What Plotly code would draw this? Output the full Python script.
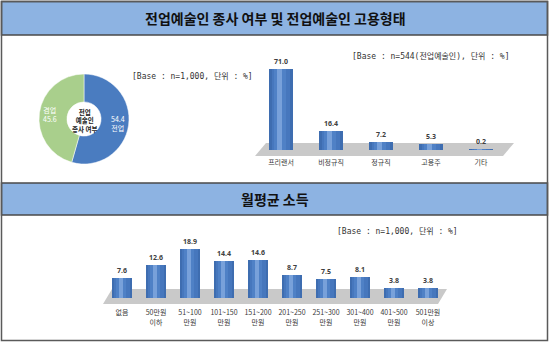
import math
import plotly.graph_objects as go

W, H = 550, 342

# ---------------- data ----------------
pie_labels = ["전업", "겸업"]
pie_values = [54.4, 45.6]

emp_categories = ["프리랜서", "비정규직", "정규직", "고용주", "기타"]
emp_values = [71.0, 16.4, 7.2, 5.3, 0.2]

inc_categories = ["없음", "50만원<br>이하", "51~100<br>만원", "101~150<br>만원", "151~200<br>만원",
                  "201~250<br>만원", "251~300<br>만원", "301~400<br>만원", "401~500<br>만원", "501만원<br>이상"]
inc_values = [7.6, 12.6, 18.9, 14.4, 14.6, 8.7, 7.5, 8.1, 3.8, 3.8]

title_top = "전업예술인 종사 여부 및 전업예술인 고용형태"
title_bottom = "월평균 소득"
base_pie = "[Base : n=1,000, 단위 : %]"
base_emp = "[Base : n=544(전업예술인), 단위 : %]"
base_inc = "[Base : n=1,000, 단위 : %]"

# ---------------- helpers ----------------
def px(x):
    return x / W

def py(y):
    return 1 - y / H

KR = "Noto Sans CJK KR"
MONO = "DejaVu Sans Mono, Noto Sans CJK KR"

BLUE_D = "#3E6DB0"
BLUE_M = "#4F81C6"
BLUE_L = "#78A1DA"

fig = go.Figure()

# ---------------- pie ----------------
PIE_CX, PIE_CY, PIE_R = 84, 119, 45
fig.add_trace(go.Pie(
    labels=pie_labels, values=pie_values,
    textinfo="none",
    marker=dict(colors=["#4A7CC0", "#A9CF8C"], line=dict(color="white", width=0.5)),
    hole=0.38, sort=False, direction="clockwise", rotation=0,
    domain=dict(x=[px(PIE_CX - PIE_R), px(PIE_CX + PIE_R)], y=[py(PIE_CY + PIE_R), py(PIE_CY - PIE_R)]),
    showlegend=False, hoverinfo="skip",
))

# ---------------- bars (simulated cylinder shading) ----------------
def add_bars(xs, vals, xa, ya, width):
    fig.add_trace(go.Bar(x=xs, y=vals, width=width, marker=dict(color=BLUE_D, line=dict(width=0)),
                         text=[f"<b>{v:.1f}</b>" for v in vals], textposition="outside",
                         textfont=dict(family="Noto Sans", size=7, color="#404040"),
                         cliponaxis=False, xaxis=xa, yaxis=ya, showlegend=False, hoverinfo="skip"))
    fig.add_trace(go.Bar(x=xs, y=vals, width=width * 0.75, marker=dict(color="#4677BD", line=dict(width=0)),
                         xaxis=xa, yaxis=ya, showlegend=False, hoverinfo="skip"))
    fig.add_trace(go.Bar(x=xs, y=vals, width=width * 0.5, offset=-width * 0.28,
                         marker=dict(color=BLUE_M, line=dict(width=0)),
                         xaxis=xa, yaxis=ya, showlegend=False, hoverinfo="skip"))
    fig.add_trace(go.Bar(x=xs, y=vals, width=width * 0.22, offset=-width * 0.16,
                         marker=dict(color=BLUE_L, line=dict(width=0)),
                         xaxis=xa, yaxis=ya, showlegend=False, hoverinfo="skip"))

emp_x = list(range(len(emp_categories)))
inc_x = list(range(len(inc_categories)))
add_bars(emp_x, emp_values, "x", "y", 0.48)
add_bars(inc_x, inc_values, "x2", "y2", 0.59)

fig.update_layout(
    width=W, height=H, margin=dict(l=0, r=0, t=0, b=0),
    paper_bgcolor="white", plot_bgcolor="rgba(0,0,0,0)",
    barmode="overlay", bargap=0,
    xaxis=dict(domain=[px(256), px(506)], range=[-0.5, len(emp_categories) - 0.5],
               tickvals=emp_x, ticktext=emp_categories, showgrid=False, zeroline=False,
               showline=False, ticks="outside", ticklen=6, tickcolor="rgba(0,0,0,0)",
               tickfont=dict(family=KR, size=7, color="#3A3A3A")),
    yaxis=dict(domain=[py(150), py(50)], range=[0, 100 / 1.14], visible=False),
    xaxis2=dict(domain=[px(105), px(445)], range=[-0.5, len(inc_categories) - 0.5],
                tickvals=inc_x, ticktext=inc_categories, showgrid=False, zeroline=False,
                showline=False, ticks="outside", ticklen=8, tickcolor="rgba(0,0,0,0)",
                tickfont=dict(family=KR, size=7, color="#3A3A3A"), anchor="y2"),
    yaxis2=dict(domain=[py(298), py(228)], range=[0, 70 / 2.59], visible=False, anchor="x2"),
)

shapes = []
shapes.append(dict(type="rect", xref="paper", yref="paper", x0=px(1.5), x1=px(547.5), y0=py(340.5), y1=py(1.5),
                   line=dict(color="#5A5A5A", width=1.5), fillcolor="rgba(0,0,0,0)", layer="above"))
for (y0, y1) in [(1.5, 35), (183, 215)]:
    shapes.append(dict(type="rect", xref="paper", yref="paper", x0=px(1.5), x1=px(547.5), y0=py(y1), y1=py(y0),
                       line=dict(color="#4A4A4A", width=1.5), fillcolor="#8DB3E2", layer="below"))

def floor(xl_bot, xl_top, xr_top, xr_bot, yt, yb):
    return dict(type="path", xref="paper", yref="paper",
                path=f"M {px(xl_bot)} {py(yb)} L {px(xl_top)} {py(yt)} L {px(xr_top)} {py(yt)} L {px(xr_bot)} {py(yb)} Z",
                fillcolor="#C9C9C9", line=dict(width=0), layer="below")
shapes.append(floor(255, 266, 514, 503, 143, 156))
shapes.append(floor(103, 112, 447, 438, 289, 304))
fig.update_layout(shapes=shapes)

def note(text, x, y, size, family, color, xanchor="center"):
    return dict(text=text, x=px(x), y=py(y), xref="paper", yref="paper", xanchor=xanchor, yanchor="middle",
                showarrow=False, font=dict(family=family, size=size, color=color))

ann = []
ann.append(note(f"<b>{title_top}</b>", 275, 18, 14, KR, "#111111"))
ann.append(note(f"<b>{title_bottom}</b>", 275, 199, 14, KR, "#111111"))
ann.append(note(base_pie, 130, 76, 8, MONO, "#333333", "left"))
ann.append(note(base_emp, 350, 56, 8, MONO, "#333333", "left"))
ann.append(note(base_inc, 335, 231, 8, MONO, "#333333", "left"))
ann.append(note("<b>전업<br>예술인<br>종사 여부</b>", PIE_CX, PIE_CY + 1, 6.5, KR, "#222222"))

# pie slice labels placed at each slice's mid-angle (clockwise from 12 o'clock)
total = sum(pie_values)
cum = 0.0
for lab, val in zip(pie_labels, pie_values):
    mid = (cum + val / 2) / total * 2 * math.pi
    cum += val
    lx = PIE_CX + 0.76 * PIE_R * math.sin(mid)
    ly = PIE_CY - 0.76 * PIE_R * math.cos(mid)
    txt = f"{val}<br>{lab}" if math.sin(mid) > 0 else f"{lab}<br>{val}"
    ann.append(note(txt, lx, ly, 7, KR, "white"))
fig.update_layout(annotations=ann)

fig.write_html("out.html")
